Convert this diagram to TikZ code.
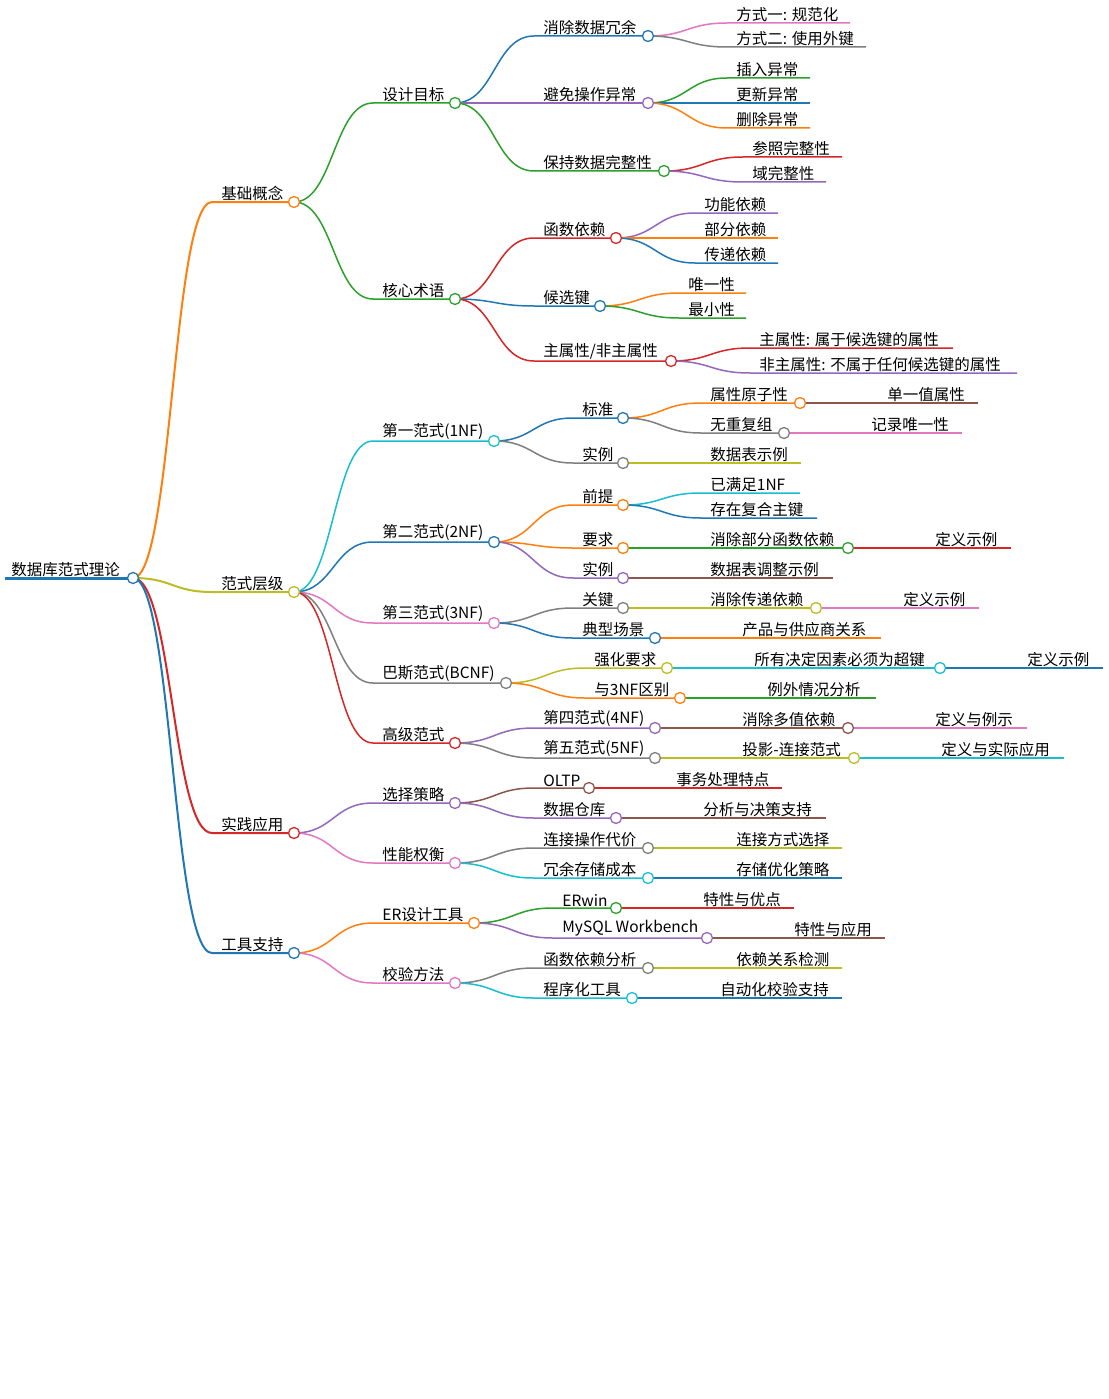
\documentclass[tikz,border=0pt]{standalone}
\usepackage{fontspec}
\setmainfont{Noto Sans CJK SC}
\usetikzlibrary{calc}
\definecolor{cB}{HTML}{1f77b4}\definecolor{cO}{HTML}{ff7f0e}\definecolor{cG}{HTML}{2ca02c}
\definecolor{cR}{HTML}{d62728}\definecolor{cP}{HTML}{9467bd}\definecolor{cN}{HTML}{8c564b}
\definecolor{cK}{HTML}{e377c2}\definecolor{cY}{HTML}{7f7f7f}\definecolor{cL}{HTML}{bcbd22}
\definecolor{cC}{HTML}{17becf}
\newcommand\mm[8]{%
 \coordinate (#1s) at (#3,#5); \coordinate (#1) at (#4,#5);
 \draw[#6,line width=#7] let \p1=(#2),\p2=(#1s) in (\p1) .. controls ({(\x1+\x2)/2},\y1) and ({(\x1+\x2)/2},\y2) .. (\p2) -- (#1);
 \node[mmtext] (#1t) at ($(#1s)+(8,0)$) {#8};}
\newcommand\mmc[2]{\draw[#2,fill=white,line width=1.3pt] (#1) circle (5.5);}
\tikzset{mmtext/.style={anchor=south west,inner sep=1.2pt,font=\fontsize{15.5}{17}\selectfont,text=black}}
\begin{document}
\begin{tikzpicture}[x=1pt,y=-1pt]
\useasboundingbox[fill=white] (0,0) rectangle (1108,1399);
\coordinate (root) at (133,578); \coordinate (roots) at (5,578);
\draw[cB,line width=3pt] (roots) -- (root);
\node[mmtext] (roott) at (10,578) {数据库范式理论};
% level 1
\mm{a}{root}{212}{294}{202}{cO}{2pt}{基础概念}
\mm{b}{root}{212}{294}{592}{cL}{2pt}{范式层级}
\mm{c}{root}{212}{294}{833}{cR}{2pt}{实践应用}
\mm{d}{root}{212}{294}{953}{cB}{2pt}{工具支持}
% a
\mm{a1}{a}{373}{455}{103}{cG}{1.5pt}{设计目标}
\mm{a2}{a}{373}{455}{299}{cG}{1.5pt}{核心术语}
\mm{a11}{a1}{534}{648}{36}{cB}{1.5pt}{消除数据冗余}
\mm{a12}{a1}{534}{648}{103}{cP}{1.5pt}{避免操作异常}
\mm{a13}{a1}{534}{664}{171}{cG}{1.5pt}{保持数据完整性}
\mm{a111}{a11}{727}{850}{23}{cK}{1.5pt}{方式一: 规范化}
\mm{a112}{a11}{727}{866}{47}{cY}{1.5pt}{方式二: 使用外键}
\mm{a121}{a12}{727}{810}{78}{cG}{1.5pt}{插入异常}
\mm{a122}{a12}{727}{810}{103}{cB}{1.5pt}{更新异常}
\mm{a123}{a12}{727}{810}{128}{cO}{1.5pt}{删除异常}
\mm{a131}{a13}{743}{842}{157}{cR}{1.5pt}{参照完整性}
\mm{a132}{a13}{743}{826}{182}{cP}{1.5pt}{域完整性}
\mm{a21}{a2}{534}{616}{238}{cR}{1.5pt}{函数依赖}
\mm{a22}{a2}{534}{600}{306}{cB}{1.5pt}{候选键}
\mm{a23}{a2}{534}{671}{361}{cR}{1.5pt}{主属性/非主属性}
\mm{a211}{a21}{695}{778}{213}{cP}{1.5pt}{功能依赖}
\mm{a212}{a21}{695}{778}{238}{cO}{1.5pt}{部分依赖}
\mm{a213}{a21}{695}{778}{263}{cB}{1.5pt}{传递依赖}
\mm{a221}{a22}{679}{746}{293}{cO}{1.5pt}{唯一性}
\mm{a222}{a22}{679}{746}{318}{cG}{1.5pt}{最小性}
\mm{a231}{a23}{750}{953}{348}{cR}{1.5pt}{主属性: 属于候选键的属性}
\mm{a232}{a23}{750}{1017}{373}{cP}{1.5pt}{非主属性: 不属于任何候选键的属性}
% b
\mm{b1}{b}{373}{494}{441}{cC}{1.5pt}{第一范式(1NF)}
\mm{b2}{b}{373}{494}{542}{cB}{1.5pt}{第二范式(2NF)}
\mm{b3}{b}{373}{494}{623}{cK}{1.5pt}{第三范式(3NF)}
\mm{b4}{b}{373}{506}{683}{cY}{1.5pt}{巴斯范式(BCNF)}
\mm{b5}{b}{373}{455}{743}{cR}{1.5pt}{高级范式}
\mm{b11}{b1}{573}{623}{418}{cB}{1.5pt}{标准}
\mm{b12}{b1}{573}{623}{463}{cY}{1.5pt}{实例}
\mm{b111}{b11}{701}{800}{403}{cO}{1.5pt}{属性原子性}
\mm{b112}{b11}{701}{784}{433}{cY}{1.5pt}{无重复组}
\mm{b1111}{b111}{878}{978}{403}{cN}{1.5pt}{单一值属性}
\mm{b1121}{b112}{862}{962}{433}{cK}{1.5pt}{记录唯一性}
\mm{b121}{b12}{701}{801}{463}{cL}{1.5pt}{数据表示例}
\mm{b21}{b2}{573}{623}{505}{cO}{1.5pt}{前提}
\mm{b22}{b2}{573}{623}{548}{cO}{1.5pt}{要求}
\mm{b23}{b2}{573}{623}{578}{cP}{1.5pt}{实例}
\mm{b211}{b21}{701}{800}{493}{cC}{1.5pt}{已满足1NF}
\mm{b212}{b21}{701}{817}{518}{cB}{1.5pt}{存在复合主键}
\mm{b221}{b22}{701}{848}{548}{cG}{1.5pt}{消除部分函数依赖}
\mm{b2211}{b221}{926}{1011}{548}{cR}{1.5pt}{定义示例}
\mm{b231}{b23}{701}{833}{578}{cN}{1.5pt}{数据表调整示例}
\mm{b31}{b3}{573}{623}{608}{cY}{1.5pt}{关键}
\mm{b32}{b3}{573}{655}{638}{cB}{1.5pt}{典型场景}
\mm{b311}{b31}{701}{816}{608}{cL}{1.5pt}{消除传递依赖}
\mm{b3111}{b311}{894}{979}{608}{cK}{1.5pt}{定义示例}
\mm{b321}{b32}{733}{881}{638}{cO}{1.5pt}{产品与供应商关系}
\mm{b41}{b4}{585}{667}{668}{cL}{1.5pt}{强化要求}
\mm{b42}{b4}{585}{680}{698}{cO}{1.5pt}{与3NF区别}
\mm{b411}{b41}{745}{940}{668}{cC}{1.5pt}{所有决定因素必须为超键}
\mm{b4111}{b411}{1018}{1103}{668}{cB}{1.5pt}{定义示例}
\mm{b421}{b42}{758}{876}{698}{cG}{1.5pt}{例外情况分析}
\mm{b51}{b5}{534}{655}{728}{cP}{1.5pt}{第四范式(4NF)}
\mm{b52}{b5}{534}{655}{758}{cY}{1.5pt}{第五范式(5NF)}
\mm{b511}{b51}{733}{848}{728}{cN}{1.5pt}{消除多值依赖}
\mm{b5111}{b511}{926}{1027}{728}{cK}{1.5pt}{定义与例示}
\mm{b521}{b52}{733}{854}{758}{cL}{1.5pt}{投影-连接范式}
\mm{b5211}{b521}{932}{1064}{758}{cC}{1.5pt}{定义与实际应用}
% c
\mm{c1}{c}{373}{455}{803}{cP}{1.5pt}{选择策略}
\mm{c2}{c}{373}{455}{863}{cK}{1.5pt}{性能权衡}
\mm{c11}{c1}{534}{589}{788}{cN}{1.5pt}{OLTP}
\mm{c12}{c1}{534}{616}{818}{cP}{1.5pt}{数据仓库}
\mm{c111}{c11}{667}{782}{788}{cR}{1.5pt}{事务处理特点}
\mm{c121}{c12}{694}{826}{818}{cN}{1.5pt}{分析与决策支持}
\mm{c21}{c2}{534}{648}{848}{cY}{1.5pt}{连接操作代价}
\mm{c22}{c2}{534}{648}{878}{cC}{1.5pt}{冗余存储成本}
\mm{c211}{c21}{727}{842}{848}{cL}{1.5pt}{连接方式选择}
\mm{c221}{c22}{727}{842}{878}{cB}{1.5pt}{存储优化策略}
% d
\mm{d1}{d}{373}{474}{923}{cO}{1.5pt}{ER设计工具}
\mm{d2}{d}{373}{455}{983}{cK}{1.5pt}{校验方法}
\mm{d11}{d1}{553}{616}{908}{cG}{1.5pt}{ERwin}
\mm{d12}{d1}{553}{707}{938}{cP}{1.5pt}{MySQL Workbench}
\mm{d111}{d11}{694}{794}{908}{cR}{1.5pt}{特性与优点}
\mm{d121}{d12}{785}{885}{938}{cN}{1.5pt}{特性与应用}
\mm{d21}{d2}{534}{648}{968}{cY}{1.5pt}{函数依赖分析}
\mm{d22}{d2}{534}{632}{998}{cC}{1.5pt}{程序化工具}
\mm{d211}{d21}{727}{842}{968}{cL}{1.5pt}{依赖关系检测}
\mm{d221}{d22}{711}{842}{998}{cB}{1.5pt}{自动化校验支持}
% circles
\mmc{root}{cB}
\mmc{a}{cO}\mmc{b}{cL}\mmc{c}{cR}\mmc{d}{cB}
\mmc{a1}{cG}\mmc{a2}{cG}\mmc{a11}{cB}\mmc{a12}{cP}\mmc{a13}{cG}
\mmc{a21}{cR}\mmc{a22}{cB}\mmc{a23}{cR}
\mmc{b1}{cC}\mmc{b2}{cB}\mmc{b3}{cK}\mmc{b4}{cY}\mmc{b5}{cR}
\mmc{b11}{cB}\mmc{b12}{cY}\mmc{b111}{cO}\mmc{b112}{cY}
\mmc{b21}{cO}\mmc{b22}{cO}\mmc{b23}{cP}\mmc{b221}{cG}
\mmc{b31}{cY}\mmc{b32}{cB}\mmc{b311}{cL}
\mmc{b41}{cL}\mmc{b42}{cO}\mmc{b411}{cC}
\mmc{b51}{cP}\mmc{b52}{cY}\mmc{b511}{cN}\mmc{b521}{cL}
\mmc{c1}{cP}\mmc{c2}{cK}\mmc{c11}{cN}\mmc{c12}{cP}\mmc{c21}{cY}\mmc{c22}{cC}
\mmc{d1}{cO}\mmc{d2}{cK}\mmc{d11}{cG}\mmc{d12}{cP}\mmc{d21}{cY}\mmc{d22}{cC}
\end{tikzpicture}
\end{document}
